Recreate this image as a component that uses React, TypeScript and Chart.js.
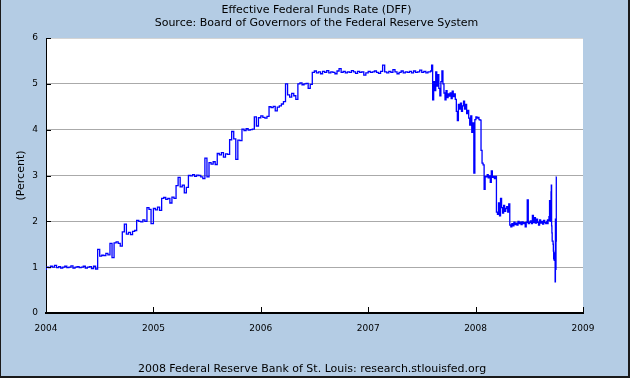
import React, { useEffect, useRef } from "react";
import { Chart, registerables } from "chart.js";

Chart.register(...registerables);

// ---------- text ----------
const titleLines = [
  "Effective Federal Funds Rate (DFF)",
  "Source: Board of Governors of the Federal Reserve System",
];
const footerText = "2008 Federal Reserve Bank of St. Louis: research.stlouisfed.org";
const yAxisTitle = "(Percent)";

// ---------- ticks ----------
const yearTicks = [2004, 2005, 2006, 2007, 2008, 2009];
const percentTicks = [0, 1, 2, 3, 4, 5, 6];

// ---------- data (percent) ----------
// weekly readings, 2004
const start2004 = "2004-01-02";
const weekly2004 = [
  0.94, 1.0, 0.99, 1.02, 1.0, 1.04, 0.99, 1.01, 0.98, 1.0,
  1.02, 0.99, 1.0, 1.03, 0.98, 1.0, 1.01, 0.99, 1.0, 1.02,
  0.98, 1.0, 1.01, 0.97, 1.02, 0.96, 1.39, 1.24, 1.26, 1.25,
  1.3, 1.27, 1.52, 1.21, 1.53, 1.55, 1.52, 1.46, 1.77, 1.94,
  1.72, 1.76, 1.71, 1.78, 1.8, 2.02, 2.0, 1.99, 2.03, 2.0,
  2.3, 2.26,
];
// weekly readings, 2005
const start2005 = "2005-01-01";
const weekly2005 = [
  1.95, 2.28, 2.25, 2.31, 2.24, 2.5, 2.52, 2.48, 2.5, 2.4,
  2.53, 2.5, 2.78, 2.96, 2.75, 2.79, 2.62, 2.74, 3.0, 2.99,
  3.02, 2.98, 3.01, 3.0, 2.97, 2.93, 3.38, 2.97, 3.28, 3.25,
  3.3, 3.24, 3.48, 3.45, 3.5, 3.4, 3.47, 3.46, 3.78, 3.96,
  3.8, 3.35, 3.77, 3.76, 4.01, 3.98, 4.02, 3.99, 4.0, 4.01,
  4.28, 4.08,
];
// weekly readings, 2006
const start2006 = "2006-01-01";
const weekly2006 = [
  4.26, 4.3, 4.27, 4.25, 4.29, 4.5, 4.48, 4.51, 4.41, 4.49,
  4.52, 4.56, 4.61, 5.0, 4.76, 4.71, 4.79, 4.74, 4.66, 5.0,
  5.02, 4.98, 5.0, 5.01, 4.9, 4.99, 5.25, 5.28, 5.24, 5.26,
  5.22, 5.27, 5.25, 5.29, 5.24, 5.26, 5.25, 5.22, 5.28, 5.33,
  5.25, 5.27, 5.24, 5.26, 5.25, 5.29, 5.26, 5.23, 5.27, 5.25,
  5.26, 5.19,
];
// weekly readings, Jan-Jul 2007
const start2007 = "2007-01-01";
const weekly2007 = [
  5.24, 5.27, 5.25, 5.26, 5.28, 5.25, 5.23, 5.27, 5.41, 5.26,
  5.24, 5.27, 5.25, 5.31, 5.26, 5.22, 5.25, 5.28, 5.24, 5.26,
  5.25, 5.27, 5.24, 5.28, 5.25, 5.26, 5.3, 5.25, 5.27, 5.24,
  5.26,
];
// twice-weekly readings, Aug 2007 - Aug 2008
const startTurmoil = "2007-08-01";
const turmoilStepDays = 3.5;
const twiceWeekly0708 = [
  5.26, 5.28, 5.41, 4.65, 5.05, 4.85, 5.26, 4.95, 5.2, 4.9,
  4.74, 5.05, 5.28, 5.0, 4.8, 4.65, 4.85, 4.7, 4.78, 4.73,
  4.8, 4.68, 4.84, 4.72, 4.78, 4.66, 4.4, 4.2, 4.55, 4.45,
  4.58, 4.4, 4.52, 4.62, 4.45, 4.55, 4.35, 4.42, 4.25, 4.1,
  4.3, 3.94, 4.15, 3.05, 4.22, 4.28, 4.25, 4.27, 4.22, 4.21,
  3.55, 3.27, 3.23, 2.7, 2.98, 2.97, 3.02, 2.95, 2.99, 2.85,
  3.1, 2.96, 2.98, 2.93, 2.98, 2.2, 2.15, 2.4, 2.12, 2.5,
  2.3, 2.18, 2.35, 2.22, 2.28, 2.32, 2.2, 2.38, 1.92, 1.88,
  1.95, 1.9, 1.98, 1.93, 1.96, 1.92, 2.0, 1.95, 1.98, 1.93,
  1.99, 1.95, 1.97, 1.88, 1.98, 2.47, 1.95, 1.98, 2.01, 1.95,
  2.13, 1.97, 2.08, 1.96, 2.05, 1.98, 1.92, 2.03, 1.96, 2.0,
  1.94, 2.02, 1.97, 1.95,
];
// daily readings, Sep 1 - Oct 3 2008
const startSep2008 = "2008-09-01";
const dailySep2008 = [
  2.0, 1.98, 2.03, 1.95, 2.02, 2.02, 2.02, 2.1, 2.05, 2.45,
  2.15, 2.0, 2.0, 2.0, 2.64, 2.79, 1.9, 1.75, 1.57, 1.57,
  1.57, 1.5, 1.35, 1.18, 1.31, 1.15, 1.15, 1.15, 0.68, 2.05,
  0.95, 1.57, 2.97,
];

// ---------- style ----------
const FONT = "'DejaVu Sans', Verdana, sans-serif";
const BG = "#b4cce4";
const LINE = "#0000ff";

const DAY = 86400000;
function fractionalYear(ms: number): number {
  const y = new Date(ms).getUTCFullYear();
  const s = Date.UTC(y, 0, 1);
  const e = Date.UTC(y + 1, 0, 1);
  return y + (ms - s) / (e - s);
}
function toPoints(start: string, stepDays: number, values: number[]) {
  const t0 = Date.parse(start + "T00:00:00Z");
  return values.map((v, i) => ({ x: fractionalYear(t0 + i * stepDays * DAY), y: v }));
}

const framePlugin = {
  id: "fredFrame",
  beforeDraw(chart: any) {
    const { ctx, width, height, chartArea } = chart;
    ctx.save();
    ctx.fillStyle = BG;
    ctx.fillRect(0, 0, width, height);
    ctx.fillStyle = "#ffffff";
    ctx.fillRect(
      chartArea.left,
      chartArea.top,
      chartArea.right - chartArea.left,
      chartArea.bottom - chartArea.top
    );
    ctx.fillStyle = "#000";
    ctx.font = `11px ${FONT}`;
    ctx.textAlign = "center";
    ctx.textBaseline = "middle";
    ctx.fillText(titleLines[0], 316.5, 10);
    ctx.fillText(titleLines[1], 316.5, 23);
    ctx.fillText(footerText, 312, 369);
    ctx.restore();
  },
  afterDraw(chart: any) {
    const { ctx, width, height, chartArea, scales } = chart;
    ctx.save();
    ctx.strokeStyle = "#000";
    ctx.lineWidth = 1;
    ctx.beginPath();
    for (const v of yearTicks) {
      const px = Math.round(scales.x.getPixelForValue(v)) + 0.5;
      ctx.moveTo(px, chartArea.bottom);
      ctx.lineTo(px, chartArea.bottom - 6);
    }
    for (const v of percentTicks) {
      const py = Math.round(scales.y.getPixelForValue(v)) + 0.5;
      ctx.moveTo(chartArea.left, py);
      ctx.lineTo(chartArea.left + 5, py);
    }
    ctx.stroke();
    ctx.fillStyle = "#1a1a1a";
    ctx.fillRect(0, 0, 1, height);
    ctx.fillRect(width - 2, 0, 2, height);
    ctx.fillRect(0, height - 2, width, 2);
    ctx.restore();
  },
};

export default function App() {
  const canvasRef = useRef<HTMLCanvasElement | null>(null);

  useEffect(() => {
    const canvas = canvasRef.current;
    if (!canvas) return;
    const points = [
      ...toPoints(start2004, 7, weekly2004),
      ...toPoints(start2005, 7, weekly2005),
      ...toPoints(start2006, 7, weekly2006),
      ...toPoints(start2007, 7, weekly2007),
      ...toPoints(startTurmoil, turmoilStepDays, twiceWeekly0708),
      ...toPoints(startSep2008, 1, dailySep2008),
    ];
    const chart = new Chart(canvas, {
      type: "line",
      data: {
        datasets: [
          {
            label: "DFF",
            data: points,
            borderColor: LINE,
            borderWidth: 1.3,
            pointRadius: 0,
            stepped: "after",
            tension: 0,
            fill: false,
          },
        ],
      },
      options: {
        responsive: false,
        animation: false,
        devicePixelRatio: 1,
        layout: { padding: { left: 0, right: 47, top: 38, bottom: 0 } },
        plugins: {
          legend: { display: false },
          tooltip: { enabled: false },
          title: { display: false },
        },
        scales: {
          x: {
            type: "linear",
            min: 2004,
            max: 2009,
            afterFit: (s: any) => {
              s.height = 65;
            },
            afterBuildTicks: (s: any) => {
              s.ticks = yearTicks.map((v) => ({ value: v }));
            },
            ticks: {
              autoSkip: false,
              maxRotation: 0,
              minRotation: 0,
              padding: 10,
              color: "#000",
              font: { family: FONT, size: 9 },
              callback: (v: any) => String(v),
            },
            grid: { display: false, drawTicks: false },
            border: { display: true, color: "#000", width: 2 },
          },
          y: {
            type: "linear",
            min: 0,
            max: 6,
            afterFit: (s: any) => {
              s.width = 46;
            },
            afterBuildTicks: (s: any) => {
              s.ticks = percentTicks.map((v) => ({ value: v }));
            },
            ticks: {
              padding: 8,
              color: "#000",
              font: { family: FONT, size: 9 },
              callback: (v: any) => String(v),
            },
            grid: {
              drawTicks: false,
              lineWidth: 1,
              color: (c: any) =>
                c.tick && c.tick.value === 6 ? "#d4d4d4" : "#aaaaaa",
            },
            border: { display: true, color: "#000", width: 1 },
            title: {
              display: true,
              text: yAxisTitle,
              color: "#000",
              font: { family: FONT, size: 11 },
              padding: { top: 15, bottom: 0 },
            },
          },
        },
      },
      plugins: [framePlugin],
    });
    return () => chart.destroy();
  }, []);

  return (
    <div style={{ position: "fixed", left: 0, top: 0, width: 630, height: 378 }}>
      <canvas
        ref={canvasRef}
        width={630}
        height={378}
        style={{ display: "block", width: 630, height: 378 }}
      />
    </div>
  );
}
